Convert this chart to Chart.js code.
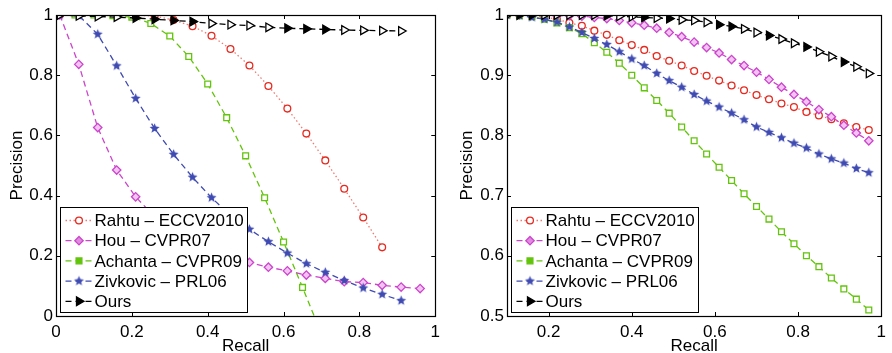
<!DOCTYPE html>
<html>
<head>
<meta charset="utf-8">
<script src="https://cdn.jsdelivr.net/npm/chart.js@4/dist/chart.umd.min.js"></script>
<style>
html, body { margin: 0; padding: 0; background: #fff; }
#wrap { position: relative; width: 892px; height: 353px; }
canvas { position: absolute; top: 0; }
</style>
</head>
<body>
<div id="wrap">
  <canvas id="left" width="446" height="353" style="left:0"></canvas>
  <canvas id="right" width="446" height="353" style="left:446px"></canvas>
</div>
<script>
// ---- data ----
var seriesNames = ['Rahtu – ECCV2010', 'Hou – CVPR07', 'Achanta – CVPR09', 'Zivkovic – PRL06', 'Ours'];

// left panel
var leftRecall = [0.01, 0.06, 0.11, 0.16, 0.21, 0.26, 0.31, 0.36, 0.41, 0.46,
                  0.51, 0.56, 0.61, 0.66, 0.71, 0.76, 0.81, 0.86, 0.91, 0.96];
var leftAchantaRecall = [0.05, 0.10, 0.15, 0.20, 0.25, 0.30, 0.35, 0.40, 0.45, 0.50, 0.55, 0.60, 0.65, 0.70];
var leftRahtu = [1.0, 1.0, 1.0, 1.0, 0.999, 0.997, 0.983, 0.963, 0.931, 0.887, 0.832, 0.764, 0.689, 0.606, 0.517, 0.423, 0.327, 0.228];
var leftHou = [1.0, 0.836, 0.626, 0.485, 0.396, 0.33, 0.28, 0.24, 0.212, 0.193, 0.178, 0.162, 0.150, 0.136, 0.125, 0.114, 0.111, 0.102, 0.096, 0.091];
var leftAchanta = [1.0, 1.0, 0.998, 0.993, 0.972, 0.930, 0.862, 0.771, 0.659, 0.532, 0.393, 0.246, 0.095, -0.06];
var leftZivkovic = [1.0, 0.998, 0.936, 0.831, 0.723, 0.623, 0.537, 0.461, 0.393, 0.335, 0.288, 0.247, 0.209, 0.174, 0.145, 0.118, 0.093, 0.072, 0.051];
var leftOurs = [1.0, 0.997, 0.995, 0.993, 0.99, 0.986, 0.982, 0.978, 0.972, 0.968, 0.965, 0.959, 0.956, 0.954, 0.952, 0.950, 0.949, 0.948, 0.947];
var leftXTicks = [0, 0.2, 0.4, 0.6, 0.8, 1];
var leftYTicks = [0, 0.2, 0.4, 0.6, 0.8, 1];

// right panel
var rightRecall = [0.10, 0.13, 0.16, 0.19, 0.22, 0.25, 0.28, 0.31, 0.34, 0.37,
                   0.40, 0.43, 0.46, 0.49, 0.52, 0.55, 0.58, 0.61, 0.64, 0.67,
                   0.70, 0.73, 0.76, 0.79, 0.82, 0.85, 0.88, 0.91, 0.94, 0.97];
var rightRahtu = [1.0, 1.0, 0.999, 0.997, 0.993, 0.987, 0.982, 0.974, 0.967, 0.958,
                  0.950, 0.942, 0.932, 0.924, 0.916, 0.907, 0.899, 0.891, 0.883, 0.875,
                  0.867, 0.860, 0.853, 0.847, 0.839, 0.833, 0.827, 0.820, 0.814, 0.809];
var rightHou = [1.0, 1.0, 1.0, 1.0, 0.999, 0.999, 0.998, 0.996, 0.994, 0.991,
                0.987, 0.983, 0.978, 0.971, 0.964, 0.955, 0.946, 0.937, 0.926, 0.916,
                0.905, 0.893, 0.880, 0.868, 0.856, 0.843, 0.831, 0.817, 0.804, 0.791];
var rightAchanta = [1.0, 0.999, 0.997, 0.993, 0.987, 0.979, 0.969, 0.954, 0.938, 0.920,
                    0.900, 0.879, 0.858, 0.837, 0.814, 0.791, 0.769, 0.747, 0.725, 0.703,
                    0.682, 0.661, 0.640, 0.620, 0.600, 0.582, 0.563, 0.545, 0.528, 0.510];
var rightZivkovic = [1.0, 0.999, 0.996, 0.993, 0.988, 0.980, 0.971, 0.961, 0.951, 0.939,
                     0.927, 0.916, 0.903, 0.891, 0.880, 0.868, 0.857, 0.847, 0.837, 0.826,
                     0.814, 0.805, 0.796, 0.787, 0.779, 0.769, 0.761, 0.754, 0.745, 0.738];
var rightOurs = [1.0, 1.0, 1.0, 1.0, 1.0, 1.0, 1.0, 1.0, 0.999, 0.998,
                 0.997, 0.996, 0.995, 0.994, 0.992, 0.991, 0.988, 0.984, 0.981, 0.977,
                 0.971, 0.966, 0.960, 0.953, 0.947, 0.939, 0.931, 0.922, 0.914, 0.903];
var rightXTicks = [0.2, 0.4, 0.6, 0.8, 1];
var rightYTicks = [0.5, 0.6, 0.7, 0.8, 0.9, 1];

// ---- styles ----
var FONT = "'Liberation Sans', Arial, Helvetica, sans-serif";
var BLUE = '#3f4bb2';

function makeStar(color, r) {
  var s = Math.ceil(r * 2 + 2);
  var c = document.createElement('canvas');
  c.width = s; c.height = s;
  var g = c.getContext('2d');
  g.fillStyle = color;
  g.beginPath();
  for (var k = 0; k < 10; k++) {
    var rr = k % 2 ? r * 0.45 : r;
    var a = -Math.PI / 2 + k * Math.PI / 5;
    g.lineTo(s / 2 + rr * Math.cos(a), s / 2 + rr * Math.sin(a));
  }
  g.closePath();
  g.fill();
  return c;
}
var starImg = makeStar(BLUE, 5.2);

var styles = [
  { color: '#e62a20', line: '#f07a72', dash: [1.5, 2.5], point: 'circle', radius: 3.4, fill: '#ffffff', legendFill: '#ffffff' },
  { color: '#cc45cc', line: '#cc45cc', dash: [6, 4], point: 'rectRot', radius: 4.2, fill: '#f2c4f2', legendFill: '#e08ae0' },
  { color: '#63c40c', line: '#63c40c', dash: [6, 4], point: 'rect', radius: 4.1, fill: '#ffffff', legendFill: '#63c40c' },
  { color: BLUE, line: BLUE, dash: [6, 4], point: starImg, radius: 5, fill: BLUE, legendFill: BLUE },
  { color: '#000000', line: '#000000', dash: [6, 4], point: 'triangle', radius: 5, fill: '#ffffff', legendFill: '#000000' }
];
var oursFilledLeft = [4, 5, 6, 7, 12, 13, 14];
var oursFilledRight = [1, 2, 8, 11, 13, 17, 18, 21, 24, 27];

function pts(xs, ys) {
  return ys.map(function (y, i) { return { x: xs[i], y: y }; });
}

function makeDataset(i, data, filled) {
  var st = styles[i];
  var bg = st.fill;
  if (filled) {
    bg = data.map(function (d, k) { return filled.indexOf(k) >= 0 ? st.color : st.fill; });
  }
  return {
    label: seriesNames[i],
    data: data,
    order: 4 - i,
    borderColor: st.line,
    borderWidth: 1.3,
    borderDash: st.dash,
    pointStyle: st.point,
    pointRadius: st.radius,
    pointRotation: i === 4 ? 90 : 0,
    pointBorderColor: st.color,
    pointBackgroundColor: bg,
    pointBorderWidth: 1.3,
    tension: 0,
    fill: false
  };
}

function drawMarker(ctx, i, x, y) {
  var st = styles[i];
  ctx.save();
  ctx.setLineDash([]);
  ctx.strokeStyle = st.color;
  ctx.fillStyle = st.legendFill;
  ctx.lineWidth = 1.3;
  ctx.beginPath();
  if (st.point === 'circle') {
    ctx.arc(x, y, st.radius, 0, Math.PI * 2);
  } else if (st.point === 'rectRot') {
    ctx.moveTo(x, y - st.radius); ctx.lineTo(x + st.radius, y);
    ctx.lineTo(x, y + st.radius); ctx.lineTo(x - st.radius, y);
  } else if (st.point === 'rect') {
    var h = st.radius * Math.SQRT1_2;
    ctx.rect(x - h, y - h, 2 * h, 2 * h);
  } else if (st.point === 'triangle') {
    var r = st.radius;
    ctx.moveTo(x + r, y);
    ctx.lineTo(x - r / 2, y - r * 0.866);
    ctx.lineTo(x - r / 2, y + r * 0.866);
  } else {
    ctx.drawImage(st.point, x - st.point.width / 2, y - st.point.height / 2);
    ctx.restore();
    return;
  }
  ctx.closePath();
  ctx.fill();
  ctx.stroke();
  ctx.restore();
}

// frame, inward ticks and boxed legend, MATLAB style
var framePlugin = {
  id: 'framePlugin',
  afterDraw: function (chart) {
    var a = chart.chartArea, ctx = chart.ctx;
    var xs = chart.scales.x, ys = chart.scales.y;
    ctx.save();
    ctx.strokeStyle = '#000';
    ctx.lineWidth = 1;
    ctx.setLineDash([]);
    ctx.beginPath();
    xs.ticks.forEach(function (t) {
      var px = Math.round(xs.getPixelForValue(t.value)) + 0.5;
      ctx.moveTo(px, a.bottom); ctx.lineTo(px, a.bottom - 4);
      ctx.moveTo(px, a.top); ctx.lineTo(px, a.top + 4);
    });
    ys.ticks.forEach(function (t) {
      var py = Math.round(ys.getPixelForValue(t.value)) + 0.5;
      ctx.moveTo(a.left, py); ctx.lineTo(a.left + 4, py);
      ctx.moveTo(a.right, py); ctx.lineTo(a.right - 4, py);
    });
    ctx.stroke();
    ctx.lineWidth = 1.2;
    ctx.strokeRect(Math.round(a.left) + 0.5, Math.round(a.top) + 0.5,
                   Math.round(a.right - a.left), Math.round(a.bottom - a.top));

    // legend box
    var x0 = Math.round(a.left) + 4.5, w = 187, h = 105;
    var y0 = Math.round(a.bottom) - 3.5 - h;
    ctx.fillStyle = '#fff';
    ctx.fillRect(x0, y0, w, h);
    ctx.lineWidth = 1;
    ctx.strokeRect(x0, y0, w, h);
    ctx.font = '17px ' + FONT;
    ctx.textBaseline = 'middle';
    ctx.textAlign = 'left';
    for (var i = 0; i < seriesNames.length; i++) {
      var yy = y0 + 13 + i * 20.2;
      var st = styles[i];
      ctx.save();
      ctx.strokeStyle = st.line;
      ctx.lineWidth = 1.3;
      ctx.setLineDash(st.dash);
      ctx.beginPath();
      ctx.moveTo(x0 + 5, yy); ctx.lineTo(x0 + 32, yy);
      ctx.stroke();
      ctx.restore();
      drawMarker(ctx, i, x0 + 18.5, yy);
      ctx.fillStyle = '#000';
      ctx.fillText(seriesNames[i], x0 + 34, yy + 1);
    }
    ctx.restore();
  }
};

function makeOptions(xmin, xmax, ymin, ymax, xTicks, yTicks, yWidth, padRight, yTitlePad) {
  var tickFont = { family: FONT, size: 17 };
  return {
    responsive: false,
    animation: false,
    events: [],
    layout: { padding: { left: 0, right: padRight, top: 15, bottom: 0 } },
    plugins: { legend: { display: false }, tooltip: { enabled: false } },
    scales: {
      x: {
        type: 'linear', min: xmin, max: xmax,
        afterBuildTicks: function (s) { s.ticks = xTicks.map(function (v) { return { value: v }; }); },
        afterFit: function (s) { s.height = 37; },
        grid: { display: false, drawTicks: false },
        border: { display: false },
        ticks: { color: '#000', font: tickFont, padding: 6, maxRotation: 0, autoSkip: false,
                 callback: function (v) { return String(+v.toFixed(2)); } },
        title: { display: true, text: 'Recall', color: '#000', font: { family: FONT, size: 17, lineHeight: 0.8 },
                 padding: { top: 0, bottom: 0 } }
      },
      y: {
        type: 'linear', min: ymin, max: ymax,
        afterBuildTicks: function (s) { s.ticks = yTicks.map(function (v) { return { value: v }; }); },
        afterFit: function (s) { s.width = yWidth; },
        grid: { display: false, drawTicks: false },
        border: { display: false },
        ticks: { color: '#000', font: tickFont, padding: 3, autoSkip: false,
                 callback: function (v) { return String(+v.toFixed(2)); } },
        title: { display: true, text: 'Precision', color: '#000', font: { family: FONT, size: 17, lineHeight: 1 },
                 padding: { top: yTitlePad, bottom: 0 } }
      }
    }
  };
}

new Chart(document.getElementById('left').getContext('2d'), {
  type: 'line',
  data: {
    datasets: [
      makeDataset(0, pts(leftRecall, leftRahtu)),
      makeDataset(1, pts(leftRecall, leftHou)),
      makeDataset(2, pts(leftAchantaRecall, leftAchanta)),
      makeDataset(3, pts(leftRecall, leftZivkovic)),
      makeDataset(4, pts(leftRecall, leftOurs), oursFilledLeft)
    ]
  },
  options: makeOptions(0, 1, 0, 1, leftXTicks, leftYTicks, 56, 9, 9),
  plugins: [framePlugin]
});

new Chart(document.getElementById('right').getContext('2d'), {
  type: 'line',
  data: {
    datasets: [
      makeDataset(0, pts(rightRecall, rightRahtu)),
      makeDataset(1, pts(rightRecall, rightHou)),
      makeDataset(2, pts(rightRecall, rightAchanta)),
      makeDataset(3, pts(rightRecall, rightZivkovic)),
      makeDataset(4, pts(rightRecall, rightOurs), oursFilledRight)
    ]
  },
  options: makeOptions(0.1, 1, 0.5, 1, rightXTicks, rightYTicks, 61, 2, 13),
  plugins: [framePlugin]
});
</script>
</body>
</html>
